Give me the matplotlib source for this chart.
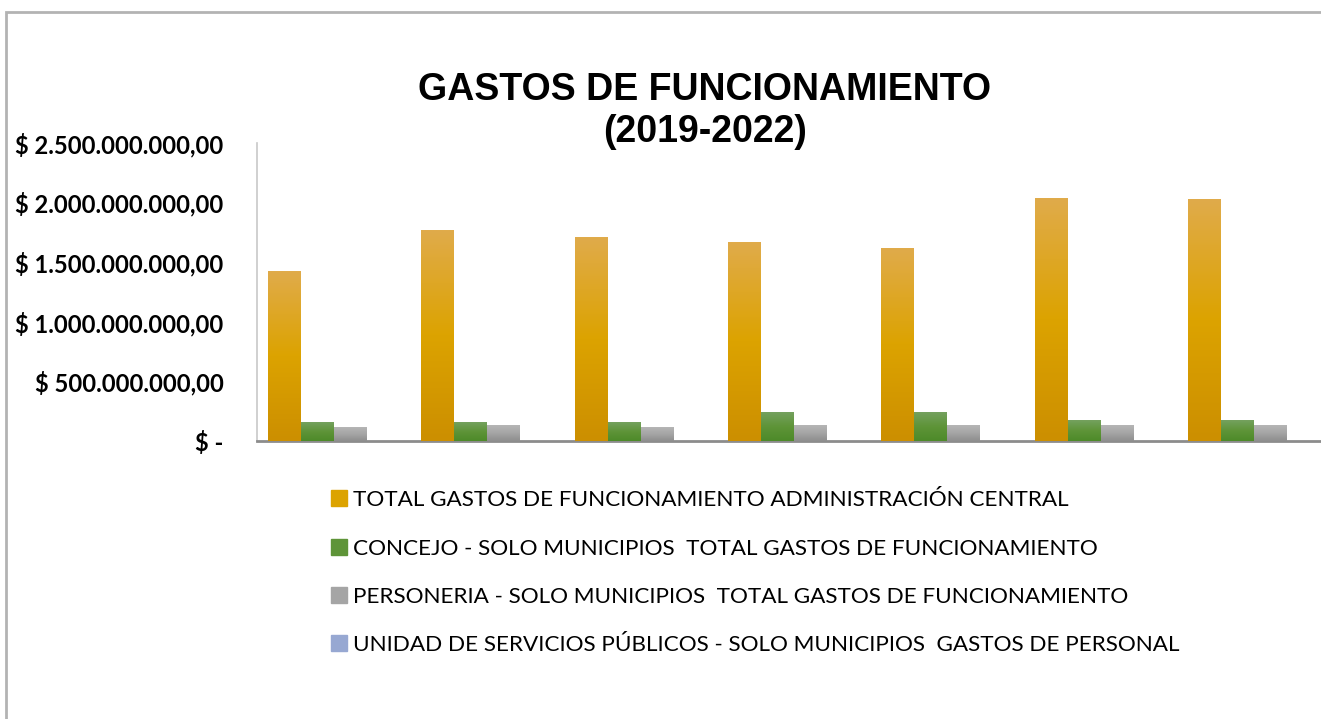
import numpy as np
import matplotlib.pyplot as plt
from matplotlib.colors import LinearSegmentedColormap
from matplotlib.patches import Rectangle

titulo = "GASTOS DE FUNCIONAMIENTO\n(2019-2022)"
series = [
    "TOTAL GASTOS DE FUNCIONAMIENTO ADMINISTRACIÓN CENTRAL",
    "CONCEJO - SOLO MUNICIPIOS  TOTAL GASTOS DE FUNCIONAMIENTO",
    "PERSONERIA - SOLO MUNICIPIOS  TOTAL GASTOS DE FUNCIONAMIENTO",
    "UNIDAD DE SERVICIOS PÚBLICOS - SOLO MUNICIPIOS  GASTOS DE PERSONAL",
]
admin_central = [1426e6, 1770e6, 1711e6, 1669e6, 1619e6, 2035e6, 2028e6]
concejo = [159e6, 159e6, 159e6, 243e6, 243e6, 168e6, 168e6]
personeria = [117e6, 126e6, 117e6, 134e6, 134e6, 134e6, 134e6]
servicios_publicos = [0, 0, 0, 0, 0, 0, 0]
y_ticks = [0, 500e6, 1000e6, 1500e6, 2000e6, 2500e6]
y_labels = ["$ -", "$ 500.000.000,00", "$ 1.000.000.000,00", "$ 1.500.000.000,00",
            "$ 2.000.000.000,00", "$ 2.500.000.000,00"]

# colores (arriba, medio, abajo) para el degradado
gradientes = [
    ["#e0ab4a", "#dca300", "#cc8f00"],
    ["#74a15e", "#5e9438", "#4d8a29"],
    ["#b5b5b5", "#a5a5a5", "#8e8e8e"],
    ["#aab8da", "#97a8d2", "#8497c8"],
]

fig = plt.figure(figsize=(13.21, 7.19), dpi=100)
fig.patches.append(Rectangle((6 / 1321, -0.1), 1.2, 1 - 12 / 719 + 0.1,
                             transform=fig.transFigure, fill=False,
                             edgecolor="#b3b3b3", linewidth=2))

ax = fig.add_axes([257 / 1321, 1 - 441 / 719, 1074 / 1321, 298 / 719])

datos = [admin_central, concejo, personeria, servicios_publicos]
x = np.arange(len(admin_central))
ancho = 0.215
for i, (valores, cols) in enumerate(zip(datos, gradientes)):
    bars = ax.bar(x + (i - 1.5) * ancho, valores, ancho, color=cols[1],
                  label=series[i], linewidth=0, zorder=2)
    cmap = LinearSegmentedColormap.from_list("g%d" % i, cols[::-1])
    grad = np.linspace(0, 1, 100).reshape(-1, 1)
    for b in bars:
        if b.get_height() <= 0:
            continue
        ax.imshow(grad, extent=[b.get_x(), b.get_x() + b.get_width(), 0, b.get_height()],
                  origin="lower", aspect="auto", cmap=cmap, zorder=3)

ax.set_xlim(-0.5, len(x) - 0.5)
ax.set_ylim(0, 2500e6)
ax.set_xticks([])
ax.set_yticks(y_ticks)
ax.set_yticklabels(y_labels, fontsize=17.1, fontweight="bold", family="Lato")
ax.tick_params(axis="y", length=0, pad=24)
for s in ["top", "right"]:
    ax.spines[s].set_visible(False)
ax.spines["left"].set_color("#c8c8c8")
ax.spines["left"].set_linewidth(1.2)
ax.spines["bottom"].set_color("#8c8c8c")
ax.spines["bottom"].set_linewidth(2)

fig.text(705 / 1321, 1 - 111 / 719, titulo, ha="center", va="center",
         fontsize=27, fontweight="bold", family="Liberation Sans", linespacing=1.18)

handles = [plt.Rectangle((0, 0), 1, 1, color=c[1]) for c in gradientes]
fig.legend(handles, series, loc="upper left", bbox_to_anchor=(311 / 1321, 1 - 470 / 719),
           frameon=False, prop={"family": "Lato", "size": 16.2}, handlelength=0.72,
           handleheight=0.72, handletextpad=0.25, labelspacing=1.26)

fig.savefig("out.png", dpi=100)
